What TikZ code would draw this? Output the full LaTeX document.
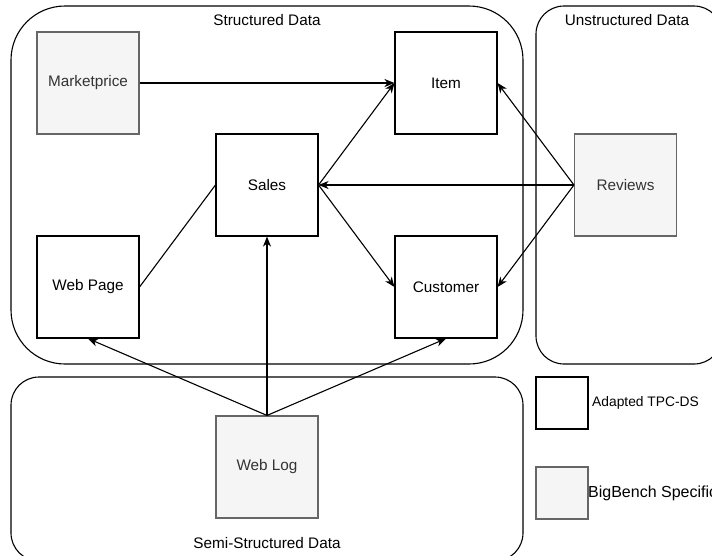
\documentclass[tikz,border=0pt]{standalone}
\usepackage{fontspec}
\setmainfont{Liberation Sans}
\usetikzlibrary{arrows.meta}
\definecolor{boxgray}{HTML}{F5F5F5}
\definecolor{edgegray}{HTML}{666666}
\definecolor{textgray}{HTML}{333333}
\begin{document}
\begin{tikzpicture}[x=1pt,y=-1pt,
  every node/.style={font=\fontsize{15.3}{18}\selectfont},
  group/.style={draw=black,line width=1.1pt,inner sep=0pt},
  table/.style={draw=black,line width=1.1pt,minimum width=102pt,minimum height=102pt,inner sep=0pt},
  bbtable/.style={table,draw=edgegray,fill=boxgray,text=textgray},
  swatch/.style={draw=black,line width=1.1pt,minimum width=52pt,minimum height=52pt,inner sep=0pt},
  bbswatch/.style={swatch,draw=edgegray,fill=boxgray},
  grouplabel/.style={inner sep=0pt},
  link/.style={line width=1.1pt},
  flow/.style={link,-{Stealth[length=10pt,width=8pt,inset=3pt]}}]
\useasboundingbox (0,0) rectangle (712,555);
\clip (0,0) rectangle (712,555);

% data groups
\node[group,rounded corners=54pt,minimum width=512pt,minimum height=358pt] (structured) at (267,185) {};
\node[group,rounded corners=28pt,minimum width=186pt,minimum height=358pt] (unstructured) at (629,185) {};
\node[group,rounded corners=28pt,minimum width=512pt,minimum height=184pt] (semi) at (267,469) {};
\node[grouplabel] (structuredlbl) at (267,20) {Structured Data};
\node[grouplabel] (unstructuredlbl) at (627,20) {Unstructured Data};
\node[grouplabel] (semilbl) at (267,543) {Semi-Structured Data};

% tables
\node[bbtable] (marketprice) at (88,83) {Marketprice};
\node[table] (item) at (446,83) {Item};
\node[table] (sales) at (267,185) {Sales};
\node[bbtable] (reviews) at (625.5,185) {Reviews};
\node[table] (webpage) at (88,287) {Web Page};
\node[table] (customer) at (446,287) {Customer};
\node[bbtable] (weblog) at (267,467) {Web Log};

% legend
\node[swatch] (legtpc) at (562,403) {};
\node[bbswatch] (legbb) at (562,493) {};
\node[anchor=west,inner sep=0pt,font=\fontsize{13.8}{16}\selectfont] (legtpclbl) at (592,403) {Adapted TPC-DS};
\node[anchor=west,inner sep=0pt,font=\fontsize{16}{19}\selectfont] (legbblbl) at (588,493) {BigBench Specific};

% relations
\draw[flow] (marketprice.east) -- (item.west);
\draw[flow] (sales.east) -- (item.west);
\draw[flow] (sales.east) -- (customer.west);
\draw[link] (sales.west) -- (webpage.east);
\draw[flow] (reviews.west) -- (sales.east);
\draw[flow] (reviews.west) -- (item.east);
\draw[flow] (reviews.west) -- (customer.east);
\draw[flow] (weblog.north) -- (sales.south);
\draw[flow] (weblog.north) -- (webpage.south);
\draw[flow] (weblog.north) -- (customer.south);
\end{tikzpicture}
\end{document}
